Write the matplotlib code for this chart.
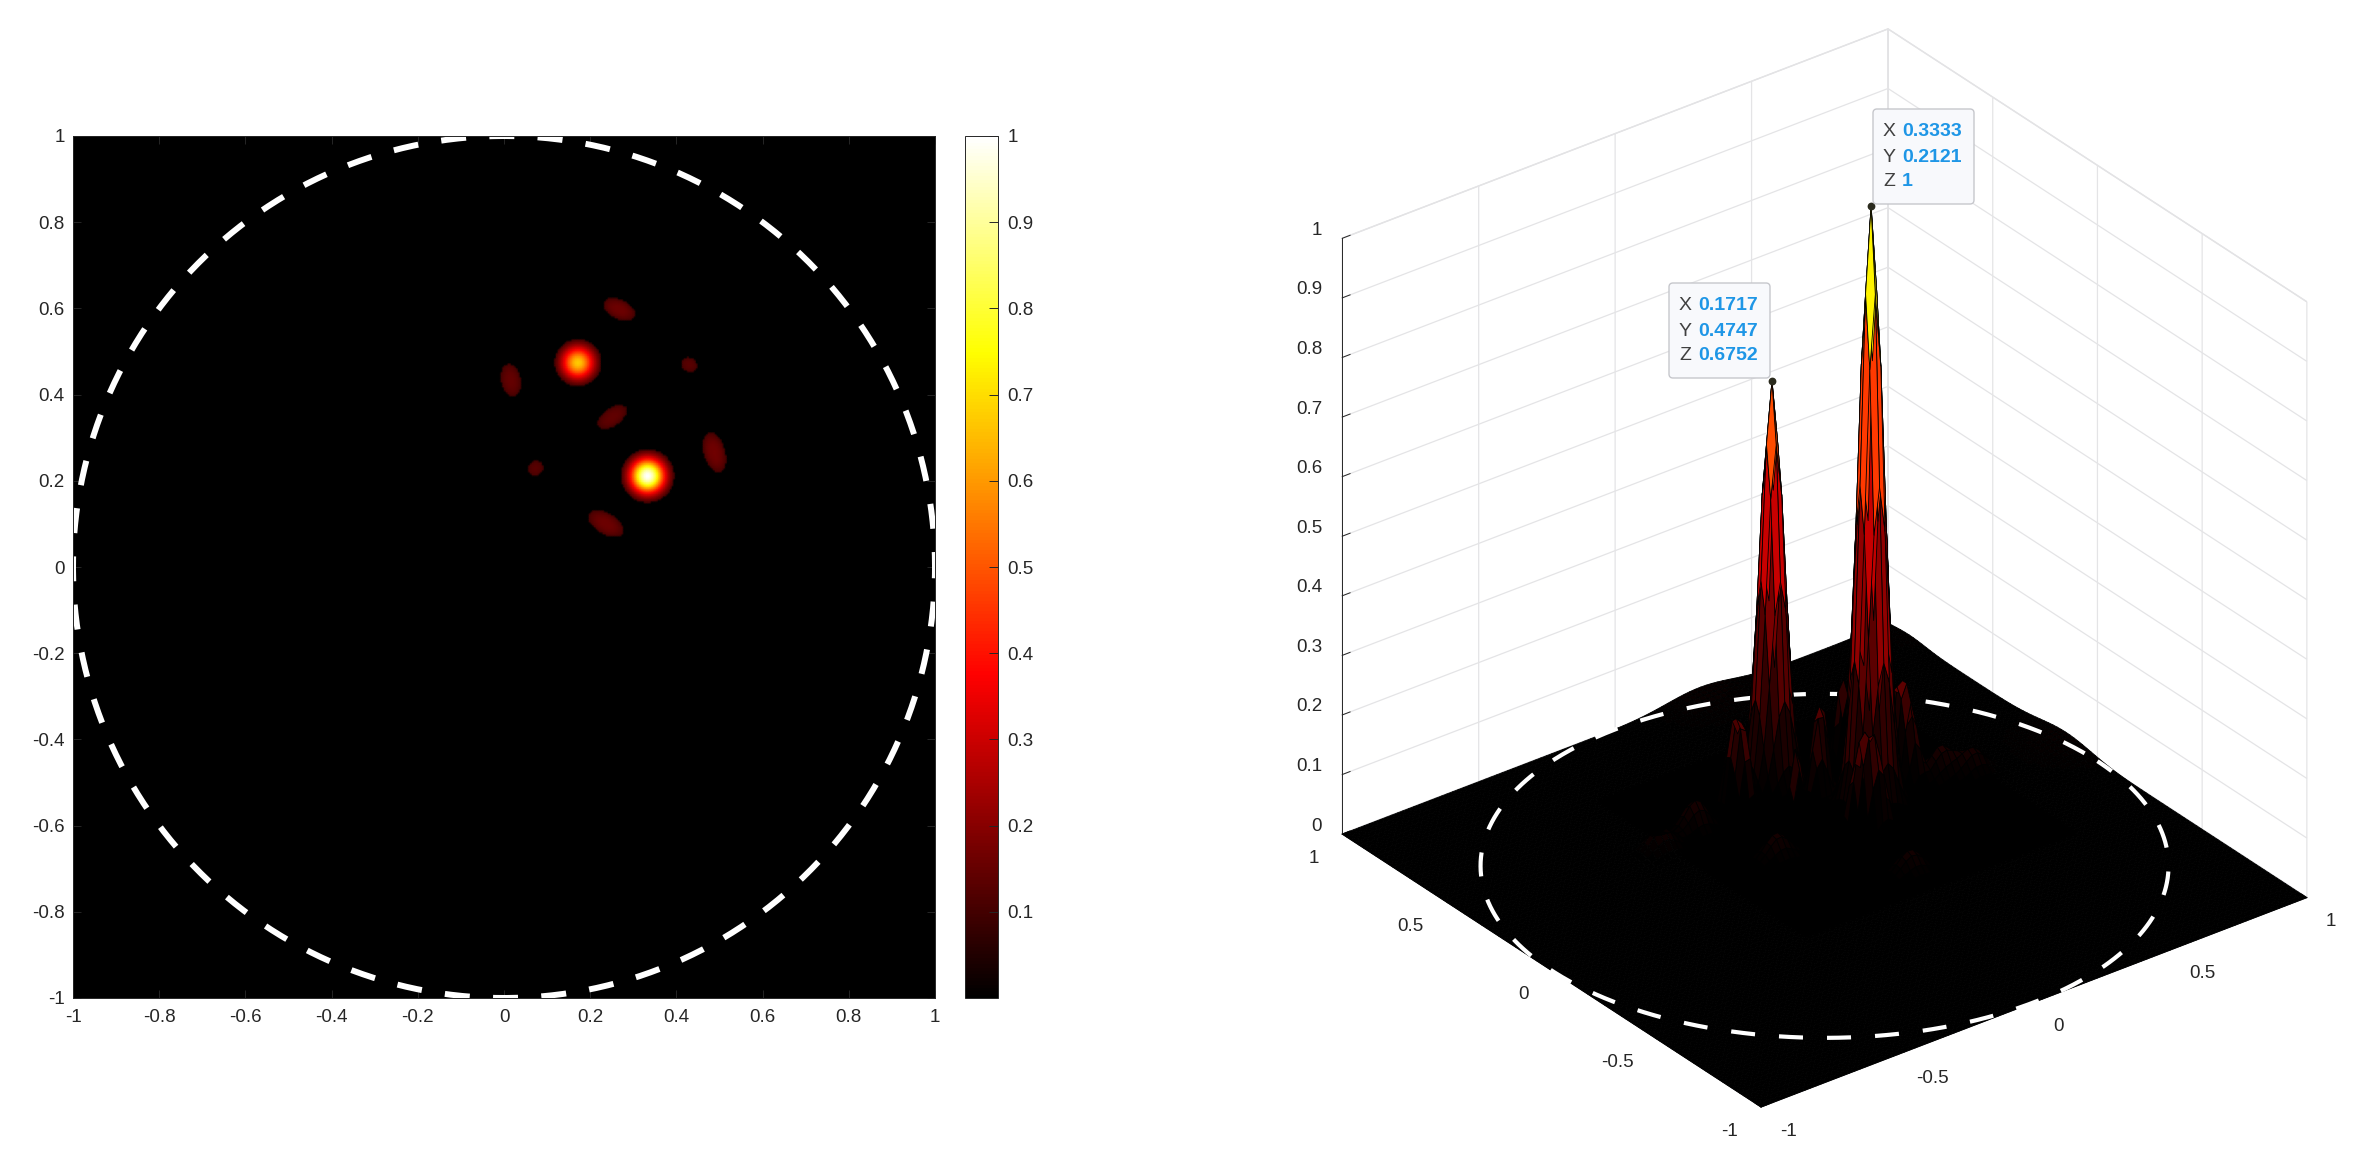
import numpy as np
import matplotlib
matplotlib.use('Agg')
from matplotlib import pyplot as plt
from matplotlib.colors import LinearSegmentedColormap
from matplotlib.patches import FancyBboxPatch
from matplotlib.transforms import IdentityTransform
from mpl_toolkits.mplot3d import proj3d

# tick labels
xy_ticks = [-1, -0.8, -0.6, -0.4, -0.2, 0, 0.2, 0.4, 0.6, 0.8, 1]
cbar_ticks = [0.1, 0.2, 0.3, 0.4, 0.5, 0.6, 0.7, 0.8, 0.9, 1]
surf_ticks = [-1, -0.5, 0, 0.5, 1]
z_ticks = [0, 0.1, 0.2, 0.3, 0.4, 0.5, 0.6, 0.7, 0.8, 0.9, 1]

# features: two main peaks, side lobes, faint lobes, edge bumps
blob_x = [0.1717, 0.3333, 0.2676, 0.0162, 0.430, 0.2514, 0.488, 0.0735, 0.2367,
          0.584, 0.671, -0.171, -0.323, -0.079, 0.178, 0.31, 1.0, 1.0]
blob_y = [0.4747, 0.2121, 0.5986, 0.434, 0.470, 0.3487, 0.2675, 0.2297, 0.1014,
          0.209, 0.166, 0.396, 0.364, 0.124, -0.176, 1.0, 0.9, 0.15]
blob_h = [0.6752, 1.0, 0.16, 0.147, 0.13, 0.143, 0.164, 0.13, 0.16,
          0.05, 0.04, 0.05, 0.04, 0.04, 0.035, 0.016, 0.006, 0.014]
blob_a = [0.028, 0.029, 0.040, 0.042, 0.024, 0.043, 0.047, 0.023, 0.046,
          0.04, 0.04, 0.04, 0.04, 0.04, 0.04, 0.12, 0.08, 0.12]
blob_b = [0.028, 0.029, 0.023, 0.025, 0.020, 0.023, 0.025, 0.021, 0.025,
          0.03, 0.03, 0.03, 0.03, 0.03, 0.03, 0.12, 0.08, 0.12]
blob_angle = [0, 0, -25, 100, -30, 35, 105, 45, -30, 0, 0, 0, 0, 0, 0, 0, 0, 0]
blob_power = [1, 1, 1.5, 1.5, 1.5, 1.5, 1.5, 1.5, 1.5, 1, 1, 1, 1, 1, 1, 1, 1, 1]
# the flat map shows nothing below this level
flat_floor = 0.1
# the two peaks stand a bit wider on the surface than on the flat map
surf_peak_width = 1.25

# data tips
tip_x = [0.3333, 0.1717]
tip_y = [0.2121, 0.4747]
tip_z = [1, 0.6752]
tip_text = [['0.3333', '0.2121', '1'], ['0.1717', '0.4747', '0.6752']]

circle_radius = 1
grid_size = 100

plt.rcParams['font.family'] = ['Liberation Sans', 'DejaVu Sans']
plt.rcParams['font.size'] = 13.5
plt.rcParams['axes.unicode_minus'] = False
plt.rcParams['text.color'] = '#262626'
plt.rcParams['xtick.color'] = '#262626'
plt.rcParams['ytick.color'] = '#262626'
plt.rcParams['grid.color'] = '#e4e4e6'
plt.rcParams['grid.linewidth'] = 0.9
plt.rcParams['lines.scale_dashes'] = False

W, H = 2365, 1169
fig = plt.figure(figsize=(W / 100, H / 100), dpi=100)


def px_axes(left, top, right, bottom):
    return [left / W, 1 - bottom / H, (right - left) / W, (bottom - top) / H]


def field(n, peak_width=1):
    g = np.linspace(-1, 1, n)
    gx, gy = np.meshgrid(g, g)
    out = np.zeros_like(gx)
    for i in range(len(blob_x)):
        t = np.deg2rad(blob_angle[i])
        u = (gx - blob_x[i]) * np.cos(t) + (gy - blob_y[i]) * np.sin(t)
        v = -(gx - blob_x[i]) * np.sin(t) + (gy - blob_y[i]) * np.cos(t)
        w = peak_width if i < 2 else 1
        rho2 = (u / (blob_a[i] * w)) ** 2 + (v / (blob_b[i] * w)) ** 2
        out = out + blob_h[i] * np.exp(-0.5 * rho2 ** blob_power[i])
    return g, gx, gy, out


hot = LinearSegmentedColormap.from_list(
    'matlab_hot', [(0, '#000000'), (0.375, '#ff0000'), (0.75, '#ffff00'), (1, '#ffffff')], N=256)

theta = np.linspace(0, 2 * np.pi, 720)
circ_x = circle_radius * np.cos(theta)
circ_y = circle_radius * np.sin(theta)

# left panel
g2, X2, Y2, Z2 = field(500)
Z2 = np.where(Z2 < flat_floor, 0, Z2)
ax = fig.add_axes(px_axes(73, 136, 935, 998))
mesh = ax.pcolormesh(X2, Y2, Z2, cmap=hot, vmin=0, vmax=1, shading='gouraud')
ax.plot(circ_x, circ_y, color='white', lw=4.3, ls=(7.2, (18, 16.8)), dash_capstyle='butt')
ax.set_xlim(-1, 1)
ax.set_ylim(-1, 1)
ax.set_xticks(xy_ticks)
ax.set_xticklabels(['%g' % t for t in xy_ticks])
ax.set_yticks(xy_ticks)
ax.set_yticklabels(['%g' % t for t in xy_ticks])
ax.tick_params(direction='in', length=6, width=0.7, pad=8, top=True, right=True)
ax.tick_params(axis='y', pad=6)
for s in ax.spines.values():
    s.set_color('#262626')
    s.set_linewidth(0.7)

cax = fig.add_axes(px_axes(965, 136, 998, 998))
cb = fig.colorbar(mesh, cax=cax)
cb.set_ticks(cbar_ticks)
cb.set_ticklabels(['%g' % t for t in cbar_ticks])
cb.ax.tick_params(direction='in', length=6.5, width=0.7, pad=7, color='#262626')
cb.outline.set_edgecolor('#262626')
cb.outline.set_linewidth(0.7)

# right panel
grid, X, Y, Z = field(grid_size, surf_peak_width)
ax3 = fig.add_axes(px_axes(1234, 8.5, 2384, 1158.5), projection='3d', computed_zorder=False)
ax3.patch.set_alpha(0)
ax3.set_proj_type('ortho')
ax3.view_init(elev=30, azim=-127.5)
ax3.set_box_aspect((1, 1, 1), zoom=1.0059)

# each facet takes the colour of its lowest corner
low = Z.copy()
low[:-1, :-1] = np.minimum.reduce([Z[:-1, :-1], Z[1:, :-1], Z[:-1, 1:], Z[1:, 1:]])
face = hot(low)
ax3.plot_surface(X, Y, Z, rstride=1, cstride=1, facecolors=face,
                 edgecolor='black', linewidth=0.6, shade=False, zorder=1)
ax3.plot(circ_x, circ_y, np.zeros_like(theta), color='white', lw=3.0,
         ls=(23.8, (17.3, 17.3)), dash_capstyle='butt', zorder=2)
# peaks again on top so they hide the far side of the circle
inner = np.ix_((grid > -0.3) & (grid < 0.7), (grid > -0.3) & (grid < 0.7))
ax3.plot_surface(X[inner], Y[inner], Z[inner], rstride=1, cstride=1, facecolors=face[inner],
                 edgecolor='black', linewidth=0.6, shade=False, zorder=3)
ax3.plot(tip_x, tip_y, tip_z, ls='none', marker='o', ms=4.6, color='#2b2b1e', zorder=5)

ax3.set_xlim(-1, 1, view_margin=0)
ax3.set_ylim(-1, 1, view_margin=0)
ax3.set_zlim(0, 1, view_margin=0)
ax3.set_xticks(surf_ticks)
ax3.set_xticklabels([''] * len(surf_ticks))
ax3.set_yticks(surf_ticks)
ax3.set_yticklabels([''] * len(surf_ticks))
ax3.set_zticks(z_ticks)
ax3.set_zticklabels([''] * len(z_ticks))
for a in (ax3.xaxis, ax3.yaxis, ax3.zaxis):
    a.set_pane_color((1, 1, 1, 1))
    a.pane.set_edgecolor('#e0e0e2')
    a.line.set_color('#262626')
    a.line.set_linewidth(0.7)
    a._axinfo['tick']['inward_factor'] = 0
    a._axinfo['tick']['outward_factor'] = 0.18
    a._axinfo['tick']['linewidth'] = {True: 0.7, False: 0.7}
    a._axinfo['tick']['color'] = '#262626'


# tick labels placed a fixed pixel offset from their tick on the box edge
def tick_label(x, y, z, label, dx, dy, ha):
    px, py, _ = proj3d.proj_transform(x, y, z, ax3.get_proj())
    ax3.annotate(label, xy=(px, py), xytext=(dx, dy), textcoords='offset pixels',
                 ha=ha, va='center', annotation_clip=False)


for t in surf_ticks:
    tick_label(t, -1, 0, '%g' % t, 19, -24, 'left')
    tick_label(-1, t, 0, '%g' % t, -23, -24, 'right')
for t in z_ticks:
    tick_label(-1, 1, t, '%g' % t, -20, 8, 'right')

# data tip boxes, pixel positions measured from the top left of the picture
tip_boxes = [(1873, 109, 1974, 204), (1669, 283, 1770, 378)]
tip_lines = [(132, 157, 182), (306, 331, 356)]
tip_label_x = [1883, 1679]
tip_value_x = [1902, 1698]
for k in range(2):
    x0, y0, x1, y1 = tip_boxes[k]
    fig.add_artist(FancyBboxPatch((x0 + 4, H - y1 + 4), x1 - x0 - 8, y1 - y0 - 8,
                                  boxstyle='round,pad=4,rounding_size=4',
                                  facecolor='#f8f9fc', edgecolor='#c6c7cc', linewidth=1.0,
                                  transform=IdentityTransform(), zorder=6))
    for name, val, yy in zip('XYZ', tip_text[k], tip_lines[k]):
        fig.text(tip_label_x[k], H - yy, name, fontsize=14, color='#404040', va='center',
                 transform=IdentityTransform(), zorder=7)
        fig.text(tip_value_x[k], H - yy, val, fontsize=14, color='#1e96e6', va='center',
                 fontweight='bold', transform=IdentityTransform(), zorder=7)

fig.savefig('out.png', dpi=100)
